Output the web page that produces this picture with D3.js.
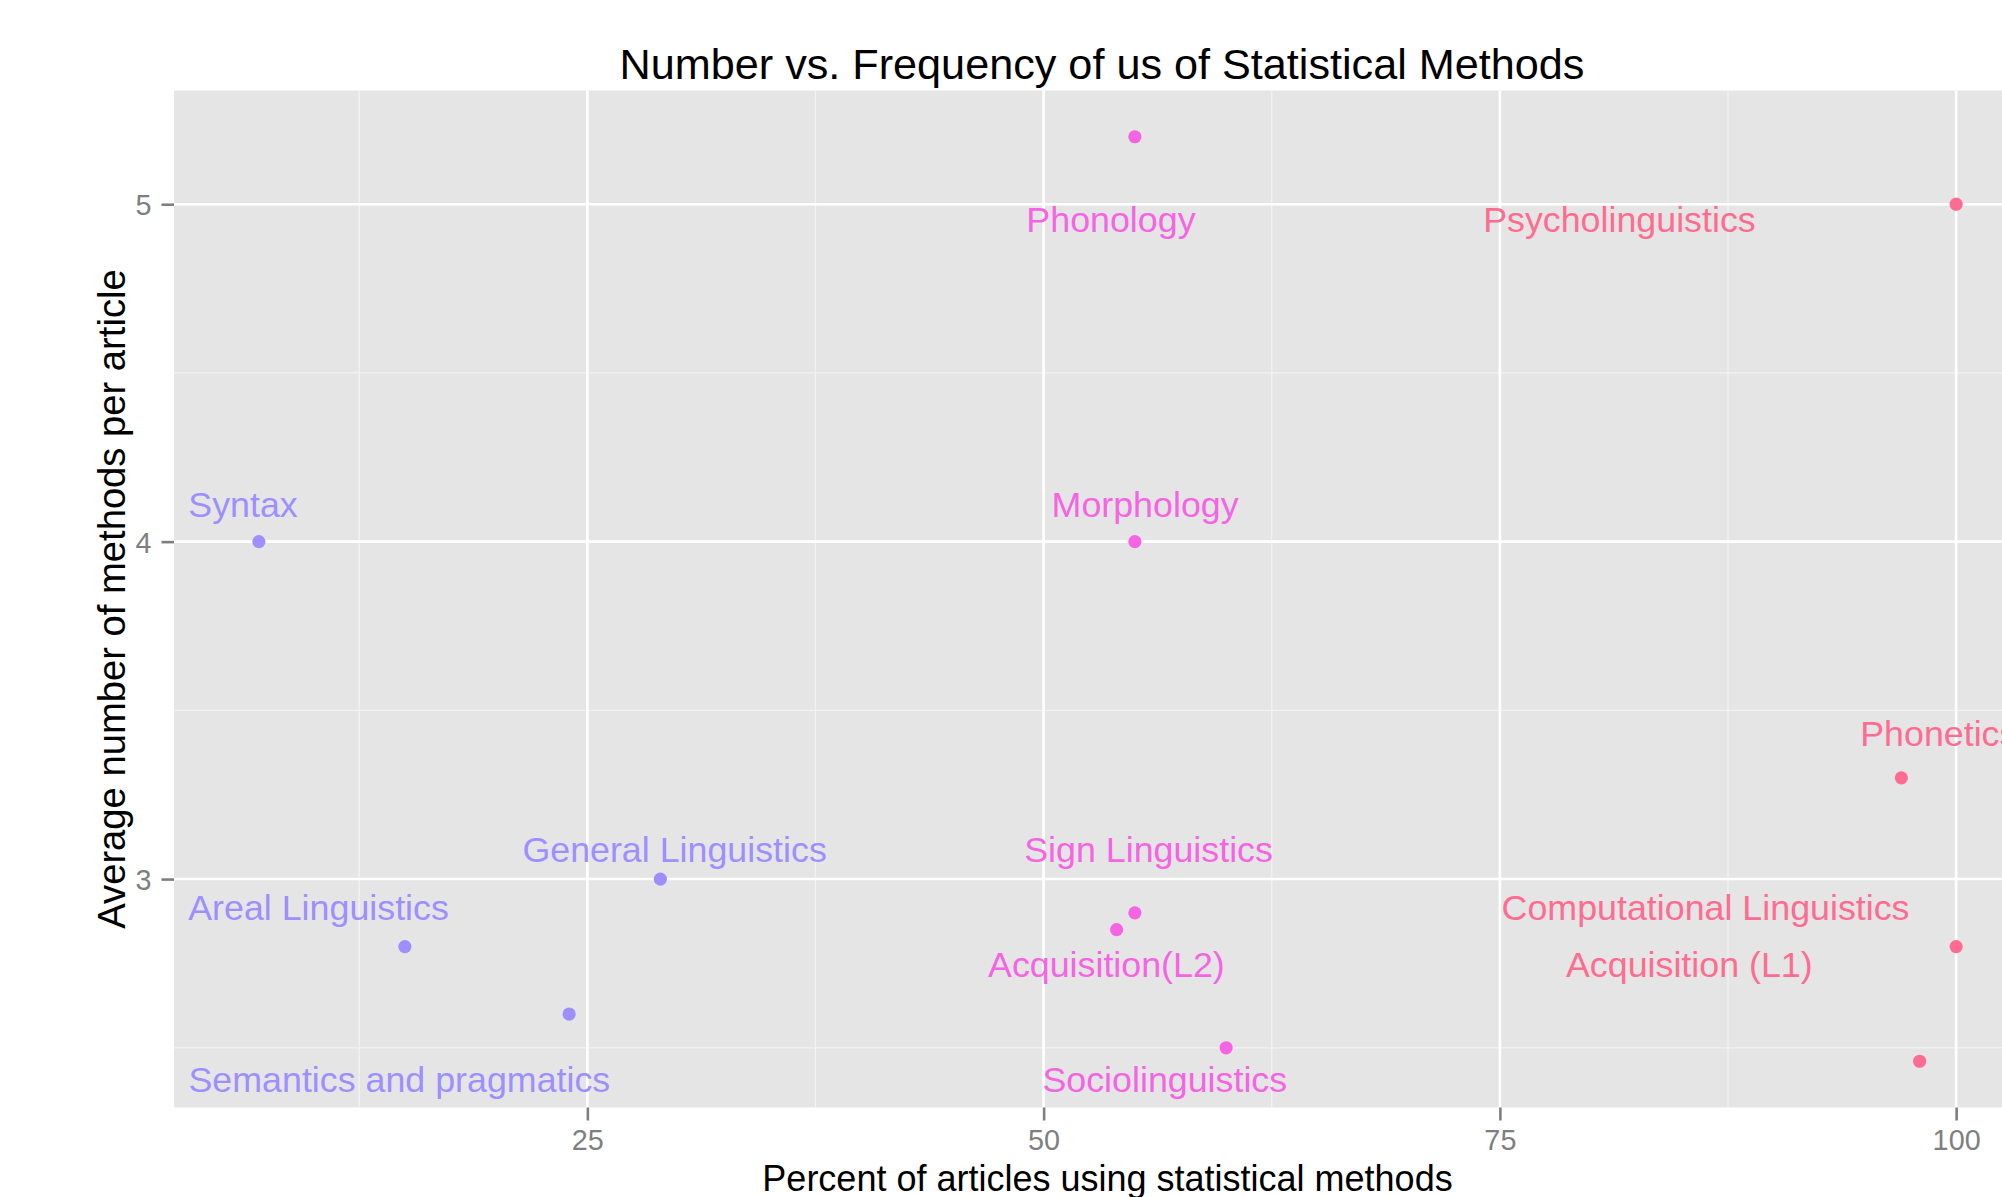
<!DOCTYPE html>
<html>
<head>
<meta charset="utf-8">
<script src="https://cdn.jsdelivr.net/npm/d3@7/dist/d3.min.js"></script>
<style>
  html, body { margin: 0; padding: 0; background: #ffffff; }
  svg { display: block; font-family: "Liberation Sans", Arial, Helvetica, sans-serif; }
</style>
</head>
<body>
<svg id="chart" width="2002" height="1197"></svg>
<script>
// ---------- data ----------
const fields = ["Syntax", "Areal Linguistics", "Semantics and pragmatics", "General Linguistics",
  "Phonology", "Morphology", "Sign Linguistics", "Acquisition(L2)", "Sociolinguistics",
  "Psycholinguistics", "Phonetics", "Computational Linguistics", "Acquisition (L1)"];
const percentStat = [7, 15, 24, 29, 55, 55, 55, 54, 60, 100, 97, 100, 98];
const avgMethods = [4.0, 2.8, 2.6, 3.0, 5.2, 4.0, 2.9, 2.85, 2.5, 5.0, 3.3, 2.8, 2.46];
const groupIdx = [0, 0, 0, 0, 1, 1, 1, 1, 1, 2, 2, 2, 2];
// label anchor positions (data units): centre x, baseline y
const labelPct = [6.13, 10.27, 14.70, 29.78, 53.69, 55.56, 55.75, 53.44, 56.64, 81.55, 99.05, 86.27, 85.38];
const labelAvg = [4.072, 2.880, 2.368, 3.051, 4.919, 4.072, 3.051, 2.710, 2.368, 4.919, 3.393, 2.880, 2.710];
const xTicks = [25, 50, 75, 100];
const yTicks = [3, 4, 5];
const xMinor = [12.5, 37.5, 62.5, 87.5];
const yMinor = [2.5, 3.5, 4.5];
const titleText = "Number vs. Frequency of us of Statistical Methods";
const xTitle = "Percent of articles using statistical methods";
const yTitle = "Average number of methods per article";

// ---------- styles ----------
const groupColors = ["#9E8FFF", "#F564E3", "#FF6C91"];
const panel = { left: 174, top: 90.5, right: 2041, bottom: 1107.5 };

const svg = d3.select("#chart");

function expand(ext) {
  const pad = (ext[1] - ext[0]) * 0.05;
  return [ext[0] - pad, ext[1] + pad];
}
const x = d3.scaleLinear().domain(expand(d3.extent(percentStat))).range([panel.left, panel.right]);
const y = d3.scaleLinear().domain(expand(d3.extent(avgMethods))).range([panel.bottom, panel.top]);

// panel background
svg.append("rect")
  .attr("x", panel.left).attr("y", panel.top)
  .attr("width", panel.right - panel.left).attr("height", panel.bottom - panel.top)
  .attr("fill", "#E5E5E5");

const grid = svg.append("g");
// minor grid
grid.selectAll("line.xminor").data(xMinor).enter().append("line")
  .attr("x1", d => x(d)).attr("x2", d => x(d)).attr("y1", panel.top).attr("y2", panel.bottom)
  .attr("stroke", "#F2F2F2").attr("stroke-width", 1.3);
grid.selectAll("line.yminor").data(yMinor).enter().append("line")
  .attr("y1", d => y(d)).attr("y2", d => y(d)).attr("x1", panel.left).attr("x2", panel.right)
  .attr("stroke", "#F2F2F2").attr("stroke-width", 1.3);
// major grid
grid.selectAll("line.xmajor").data(xTicks).enter().append("line")
  .attr("x1", d => x(d)).attr("x2", d => x(d)).attr("y1", panel.top).attr("y2", panel.bottom)
  .attr("stroke", "#FFFFFF").attr("stroke-width", 2.6);
grid.selectAll("line.ymajor").data(yTicks).enter().append("line")
  .attr("y1", d => y(d)).attr("y2", d => y(d)).attr("x1", panel.left).attr("x2", panel.right)
  .attr("stroke", "#FFFFFF").attr("stroke-width", 2.6);

// axes
const xAxis = d3.axisBottom(x).tickValues(xTicks).tickSize(13).tickPadding(9).tickFormat(d3.format("d"));
const yAxis = d3.axisLeft(y).tickValues(yTicks).tickSize(12.5).tickPadding(10).tickFormat(d3.format("d"));

const gx = svg.append("g").attr("transform", `translate(0,${panel.bottom})`).call(xAxis);
const gy = svg.append("g").attr("transform", `translate(${panel.left},0)`).call(yAxis);
[gx, gy].forEach(g => {
  g.select(".domain").remove();
  g.selectAll(".tick line").attr("stroke", "#7F7F7F").attr("stroke-width", 2.6);
  g.selectAll(".tick text").attr("fill", "#7F7F7F")
    .style("font-size", "28.8px").style("font-family", "'Liberation Sans', Arial, sans-serif");
});
gx.selectAll(".tick text").attr("dy", "0.71em");
gy.selectAll(".tick text").attr("dy", "0.36em");

// points
svg.append("g").selectAll("circle").data(fields).enter().append("circle")
  .attr("cx", (d, i) => x(percentStat[i]))
  .attr("cy", (d, i) => y(avgMethods[i]))
  .attr("r", 6.6)
  .attr("fill", (d, i) => groupColors[groupIdx[i]]);

// labels
svg.append("g").selectAll("text").data(fields).enter().append("text")
  .attr("x", (d, i) => x(labelPct[i]))
  .attr("y", (d, i) => y(labelAvg[i]))
  .attr("text-anchor", "middle")
  .attr("fill", (d, i) => groupColors[groupIdx[i]])
  .style("font-size", "35.8px")
  .text(d => d);

// titles
svg.append("text")
  .attr("x", 1102).attr("y", 79)
  .attr("text-anchor", "middle").attr("fill", "#000")
  .style("font-size", "43.2px")
  .text(titleText);

svg.append("text")
  .attr("x", (panel.left + panel.right) / 2).attr("y", 1190.5)
  .attr("text-anchor", "middle").attr("fill", "#000")
  .style("font-size", "36px")
  .text(xTitle);

svg.append("text")
  .attr("transform", `translate(125,${(panel.top + panel.bottom) / 2}) rotate(-90)`)
  .attr("text-anchor", "middle").attr("fill", "#000")
  .style("font-size", "38.2px")
  .text(yTitle);
</script>
</body>
</html>
